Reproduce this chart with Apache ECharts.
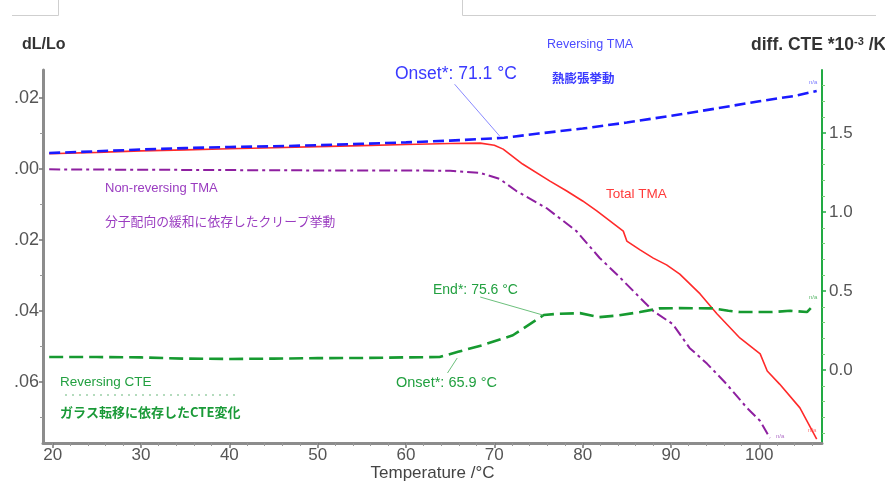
<!DOCTYPE html>
<html>
<head>
<meta charset="utf-8">
<script src="https://cdn.jsdelivr.net/npm/echarts@6.0.0/dist/echarts.min.js"></script>
<style>
  html, body { margin: 0; padding: 0; background: #fff; }
  #chart { width: 885px; height: 481px; }
</style>
</head>
<body>
<div id="chart"></div>
<script>
// Temperature (°C) and dL/Lo for the reversing TMA signal
const revTmaTemp = [19.6, 25, 30, 35, 40, 45, 50, 55, 60, 65, 71.1, 75, 80, 85, 90, 95, 100, 104, 106.5];
const revTmaVal  = [0.0045, 0.0050, 0.0055, 0.0059, 0.0062, 0.0064, 0.0067, 0.0071, 0.0075, 0.0080, 0.0088, 0.0100, 0.0114, 0.0131, 0.0150, 0.0170, 0.0191, 0.0206, 0.0220];

// Total TMA
const totalTemp = [19.6, 25, 30, 35, 40, 45, 50, 55, 60, 65, 68.4, 70, 71, 73.2, 76.3, 78.2, 80, 81.6, 84.6, 85.0, 86.5, 88.0, 89.5, 91.0, 93.3, 95.2, 97.8, 100.1, 100.9, 102.3, 104.6, 106.5];
const totalVal  = [0.0043, 0.0047, 0.0051, 0.0054, 0.0057, 0.0060, 0.0063, 0.0066, 0.0069, 0.0072, 0.0073, 0.0067, 0.0056, 0.0014, -0.0034, -0.0062, -0.0090, -0.0118, -0.0175, -0.0203, -0.0228, -0.0251, -0.0270, -0.0296, -0.0352, -0.0408, -0.0476, -0.0521, -0.0569, -0.0606, -0.0673, -0.0761];

// Non-reversing TMA
const nonRevTemp = [19.6, 30, 40, 50, 60, 65, 68.4, 70.6, 72.5, 75.9, 79.3, 81.9, 84, 86.5, 88.0, 90.2, 92.1, 94.1, 96.3, 98.6, 100.1, 101.2];
const nonRevVal  = [-0.0001, -0.0002, -0.0003, -0.0004, -0.0004, -0.0005, -0.0011, -0.0028, -0.0062, -0.0110, -0.0175, -0.0250, -0.0300, -0.0363, -0.0400, -0.0437, -0.0504, -0.0549, -0.0606, -0.0673, -0.0710, -0.0758];

// Reversing CTE (diff. CTE *10^-3 /K, right axis)
const cteTemp = [19.6, 25, 30, 35, 40, 45, 50, 55, 60, 63.8, 65.9, 68.7, 72.1, 75.6, 77, 79.7, 81.9, 84, 86.5, 88.7, 91, 94.7, 96.5, 97.8, 101.5, 103.5, 105.4, 106.3];
const cteVal  = [0.082, 0.082, 0.080, 0.072, 0.070, 0.072, 0.075, 0.076, 0.080, 0.082, 0.115, 0.158, 0.220, 0.348, 0.355, 0.360, 0.335, 0.345, 0.367, 0.390, 0.392, 0.390, 0.375, 0.367, 0.367, 0.375, 0.367, 0.420];

// Axis ticks
const xMajor = [20, 30, 40, 50, 60, 70, 80, 90, 100];
const xMinor = [20, 22, 24, 26, 28, 30, 32, 34, 36, 38, 40, 42, 44, 46, 48, 50, 52, 54, 56, 58, 60, 62, 64, 66, 68, 70, 72, 74, 76, 78, 80, 82, 84, 86, 88, 90, 92, 94, 96, 98, 100, 102, 104, 106];
const leftMajor = [-0.06, -0.04, -0.02, 0, 0.02];
const leftMinor = [-0.07, -0.05, -0.03, -0.01, 0.01];
const rightMajor = [0, 0.5, 1.0, 1.5];
const rightMinor = [-0.4, -0.3, -0.2, -0.1, 0.1, 0.2, 0.3, 0.4, 0.6, 0.7, 0.8, 0.9, 1.1, 1.2, 1.3, 1.4, 1.6, 1.7, 1.8];

const X_MIN = 18.9, X_MAX = 107.1;
const L_MIN = -0.0772, L_MAX = 0.0279;
const R_MIN = -0.462, R_MAX = 1.899;

const zip = (a, b) => a.map((t, i) => [t, b[i]]);

const FONT = '"Liberation Sans", Arial, sans-serif';
const JP = '"Noto Sans CJK JP", "Liberation Sans", sans-serif';

const chart = echarts.init(document.getElementById('chart'), null, { renderer: 'canvas' });

const leader = (color, from, to) => ({
  silent: true,
  symbol: ['none', 'none'],
  animation: false,
  label: { show: false },
  lineStyle: { color: color, width: 1, type: 'solid' },
  data: [[{ coord: from }, { coord: to }]]
});

const text = (x, y, str, color, size, font, weight) => ({
  type: 'text', x: x, y: y, z: 50,
  style: { text: str, fill: color, font: (weight || 'normal') + ' ' + size + 'px ' + (font || FONT), textVerticalAlign: 'middle' }
});

chart.setOption({
  animation: false,
  backgroundColor: '#ffffff',
  grid: { left: 43, right: 63, top: 70, bottom: 38, containLabel: false, outerBoundsMode: 'none' },
  xAxis: [
    {
      type: 'value', min: X_MIN, max: X_MAX, position: 'bottom',
      axisLine: { show: true, onZero: false, lineStyle: { color: '#8c8c8c', width: 3 } },
      axisTick: { show: true, customValues: xMajor, length: 5, lineStyle: { color: '#777', width: 1.5 } },
      axisLabel: { customValues: xMajor, color: '#555', fontSize: 17, fontFamily: FONT, margin: 4, formatter: v => String(v) },
      splitLine: { show: false },
      name: 'Temperature /°C', nameLocation: 'middle', nameGap: 22, nameMoveOverlap: false,
      nameTextStyle: { color: '#444', fontSize: 17, fontFamily: FONT }
    },
    {
      type: 'value', min: X_MIN, max: X_MAX, position: 'bottom',
      axisLine: { show: false, onZero: false },
      axisTick: { show: true, customValues: xMinor, length: 3, lineStyle: { color: '#999', width: 1 } },
      axisLabel: { show: false },
      splitLine: { show: false }
    }
  ],
  yAxis: [
    {
      type: 'value', min: L_MIN, max: L_MAX, position: 'left',
      axisLine: { show: true, onZero: false, lineStyle: { color: '#8c8c8c', width: 3 } },
      axisTick: { show: true, customValues: leftMajor, length: 4, lineStyle: { color: '#777', width: 1.5 } },
      axisLabel: { customValues: leftMajor, color: '#555', fontSize: 18, fontFamily: FONT, margin: 4, formatter: v => v.toFixed(2) },
      splitLine: { show: false }
    },
    {
      type: 'value', min: R_MIN, max: R_MAX, position: 'right',
      axisLine: { show: true, onZero: false, lineStyle: { color: '#22aa44', width: 2 } },
      axisTick: { show: true, customValues: rightMajor, length: 4, lineStyle: { color: '#22aa44', width: 1.5 } },
      axisLabel: { customValues: rightMajor, color: '#555', fontSize: 17, fontFamily: FONT, margin: 7, formatter: v => v.toFixed(1) },
      splitLine: { show: false }
    },
    {
      type: 'value', min: L_MIN, max: L_MAX, position: 'left',
      axisLine: { show: false, onZero: false },
      axisTick: { show: true, customValues: leftMinor, length: 3, lineStyle: { color: '#999', width: 1 } },
      axisLabel: { show: false },
      splitLine: { show: false }
    },
    {
      type: 'value', min: R_MIN, max: R_MAX, position: 'right',
      axisLine: { show: false, onZero: false },
      axisTick: { show: true, customValues: rightMinor, length: 3, lineStyle: { color: '#7c7', width: 1 } },
      axisLabel: { show: false },
      splitLine: { show: false }
    }
  ],
  series: [
    {
      name: 'Non-reversing TMA', type: 'line', xAxisIndex: 0, yAxisIndex: 0,
      data: zip(nonRevTemp, nonRevVal), showSymbol: false, z: 3,
      lineStyle: { color: '#8e1fa0', width: 2, type: [11, 4, 3, 4] }
    },
    {
      name: 'Total TMA', type: 'line', xAxisIndex: 0, yAxisIndex: 0,
      data: zip(totalTemp, totalVal), showSymbol: false, z: 3,
      lineStyle: { color: '#ff2a2a', width: 1.6 }
    },
    {
      name: 'Reversing TMA', type: 'line', xAxisIndex: 0, yAxisIndex: 0,
      data: zip(revTmaTemp, revTmaVal), showSymbol: false, z: 4,
      lineStyle: { color: '#1a1aff', width: 2.6, type: [11, 5] },
      markLine: leader('#8a8aff', [65.5, 0.0239], [70.6, 0.0093])
    },
    {
      name: 'Reversing CTE', type: 'line', xAxisIndex: 0, yAxisIndex: 1,
      data: zip(cteTemp, cteVal), showSymbol: false, z: 4,
      lineStyle: { color: '#169a30', width: 2.6, type: [14, 6] },
      markLine: {
        silent: true, symbol: ['none', 'none'], animation: false, label: { show: false },
        lineStyle: { color: '#6cc07c', width: 1, type: 'solid' },
        data: [
          [{ coord: [68.4, 0.462] }, { coord: [75.5, 0.348] }],
          [{ coord: [65.8, 0.076] }, { coord: [64.7, -0.019] }]
        ]
      }
    }
  ],
  graphic: [
    // white margin at the far left edge
    { type: 'rect', shape: { x: 0, y: 60, width: 14, height: 360 }, style: { fill: '#fff' }, z: 100 },
    // frame remnants along the top
    { type: 'polyline', shape: { points: [[12, 15.5], [58.5, 15.5], [58.5, 0]] }, style: { stroke: '#cfcfcf', lineWidth: 1, fill: null }, z: 10 },
    { type: 'polyline', shape: { points: [[462.5, 0], [462.5, 15.5], [876, 15.5]] }, style: { stroke: '#cfcfcf', lineWidth: 1, fill: null }, z: 10 },
    // axis titles
    text(22, 45, 'dL/Lo', '#333', 16, FONT, 'bold'),
    {
      type: 'text', x: 751, y: 45, z: 50,
      style: {
        text: '{a|diff. CTE *10}{s|-3}{a| /K}',
        textVerticalAlign: 'middle',
        rich: {
          a: { fill: '#333', font: 'bold 17.5px ' + FONT },
          s: { fill: '#333', font: 'bold 11px ' + FONT, verticalAlign: 'top', padding: [0, 0, 6, 0] }
        }
      }
    },
    // annotations
    text(395, 74, 'Onset*: 71.1 °C', '#3a3aff', 17.5, FONT),
    text(547, 45, 'Reversing TMA', '#4a4aff', 12.5, FONT),
    text(552, 78, '熱膨張挙動', '#3a3aff', 12.5, JP, 'bold'),
    text(105, 188, 'Non-reversing TMA', '#9a3cc0', 13, FONT),
    text(105, 221, '分子配向の緩和に依存したクリープ挙動', '#9a3cc0', 12.8, JP),
    text(606, 194, 'Total TMA', '#ff3a3a', 13.5, FONT),
    text(433, 290, 'End*: 75.6 °C', '#22a040', 14, FONT),
    text(396, 383, 'Onset*: 65.9 °C', '#22a040', 14.5, FONT),
    text(60, 382, 'Reversing CTE', '#22a040', 13.5, FONT),
    { type: 'line', shape: { x1: 65, y1: 395, x2: 236, y2: 395 }, style: { stroke: '#9ccfa8', lineWidth: 1.5, lineDash: [2, 5] }, z: 10 },
    text(60, 412, 'ガラス転移に依存したCTE変化', '#1a9a38', 13, JP, 'bold'),
    // small end-of-curve tags
    text(809, 82, 'n/a', '#7a7aff', 6, FONT),
    text(809, 297, 'n/a', '#5cb86c', 6, FONT),
    text(776, 436, 'n/a', '#b070c8', 6, FONT),
    text(808, 430, 'n/a', '#ff7070', 6, FONT)
  ]
});
</script>
</body>
</html>
